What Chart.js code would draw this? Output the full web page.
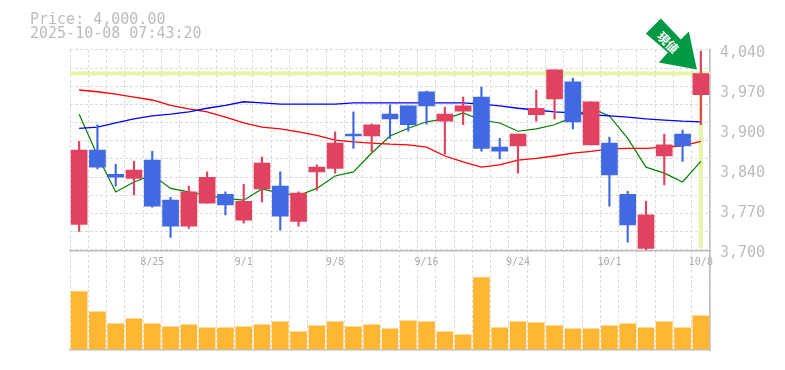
<!DOCTYPE html>
<html>
<head>
<meta charset="utf-8">
<title>Price chart</title>
<script src="https://cdn.jsdelivr.net/npm/chart.js@4/dist/chart.umd.min.js"></script>
<style>
  html, body { margin: 0; padding: 0; background: #fff; }
  canvas { display: block; }
</style>
</head>
<body>
<canvas id="chart" width="785" height="370"></canvas>
<script>
// Statics
var TITLE_LINES = ['Price: 4,000.00', '2025-10-08 07:43:20'];
var ARROW_TEXT = '現値';
var LAST_PRICE = 4000;

var dates = ['8/19', '8/20', '8/21', '8/22', '8/25', '8/26', '8/27', '8/28', '8/29',
    '9/1', '9/2', '9/3', '9/4', '9/5', '9/8', '9/9', '9/10', '9/11', '9/12',
    '9/16', '9/17', '9/18', '9/19', '9/22', '9/24', '9/25', '9/26', '9/29', '9/30',
    '10/1', '10/2', '10/3', '10/6', '10/7', '10/8'];
var labelledDates = ['8/25', '9/1', '9/8', '9/16', '9/24', '10/1', '10/8'];

var opens = [3744, 3870, 3829, 3822, 3853, 3785, 3741, 3780, 3795, 3751, 3804, 3809, 3749, 3833, 3839,
    3897, 3894, 3931, 3945, 3969, 3919, 3936, 3960, 3875, 3877, 3930, 3957, 3986, 3879,
    3882, 3795, 3703, 3860, 3897, 3964];
var closes = [3870, 3841, 3824, 3836, 3775, 3741, 3799, 3824, 3777, 3783, 3848, 3758, 3797, 3841, 3882,
    3894, 3913, 3923, 3913, 3945, 3931, 3945, 3873, 3868, 3897, 3941, 4006, 3918, 3952,
    3828, 3743, 3760, 3879, 3877, 4000];
var highs = [3885, 3913, 3846, 3851, 3868, 3790, 3809, 3833, 3799, 3812, 3858, 3833, 3799, 3845, 3901,
    3935, 3914, 3947, 3945, 3970, 3943, 3960, 3977, 3890, 3897, 3972, 4006, 3992, 3952,
    3892, 3800, 3783, 3897, 3904, 4038];
var lows = [3732, 3838, 3809, 3794, 3773, 3722, 3737, 3780, 3760, 3746, 3782, 3734, 3741, 3802, 3831,
    3873, 3867, 3890, 3902, 3914, 3863, 3913, 3868, 3855, 3831, 3919, 3923, 3906, 3879,
    3775, 3714, 3700, 3811, 3851, 3913];

var maShort = [3931, 3861, 3799, 3816, 3828, 3805, 3799, 3793, 3788, 3785, 3804, 3797, 3793, 3805, 3826,
    3833, 3865, 3894, 3907, 3918, 3923, 3933, 3921, 3916, 3902, 3906, 3913, 3926, 3941,
    3928, 3890, 3841, 3831, 3816, 3851];
var maMid = [3972, 3969, 3965, 3960, 3955, 3946, 3940, 3935, 3926, 3916, 3909, 3906, 3901, 3895, 3887,
    3884, 3882, 3880, 3879, 3875, 3860, 3850, 3841, 3845, 3853, 3856, 3860, 3865, 3868,
    3872, 3873, 3873, 3875, 3877, 3885];
var maLong = [3907, 3909, 3916, 3923, 3928, 3931, 3935, 3941, 3946, 3952, 3950, 3948, 3948, 3948, 3948,
    3950, 3950, 3950, 3950, 3950, 3950, 3950, 3948, 3945, 3941, 3938, 3935, 3933, 3930,
    3928, 3926, 3923, 3921, 3919, 3918];

var volumes = [57, 37, 25, 30, 25, 22, 24, 21, 21, 22, 24, 27, 17, 23, 27, 22, 24, 20,
    28, 27, 17, 14, 71, 21, 27, 26, 23, 20, 20, 23, 25, 21, 27, 21, 33];

var UP_COLOR = '#e1425f';
var DOWN_COLOR = '#4169e1';
var GRID_COLOR = '#dcdcdc';
var AXIS_COLOR = '#bdbdbd';
var TEXT_COLOR = '#bcbcbc';
var MONO = '"DejaVu Sans Mono", monospace';

// Code
function zipRange(a, b) {
    return a.map(function (v, i) { return [v, b[i]]; });
}

var candleColors = opens.map(function (open, i) {
    return closes[i] >= open ? UP_COLOR : DOWN_COLOR;
});

function lineSet(values, color, width) {
    return {
        type: 'line',
        data: values,
        yAxisID: 'price',
        borderColor: color,
        borderWidth: width,
        pointRadius: 0,
        tension: 0,
        order: 5
    };
}

function barSet(values, colors, thickness, axis, order) {
    return {
        type: 'bar',
        data: values,
        yAxisID: axis,
        backgroundColor: colors,
        barThickness: thickness,
        grouped: false,
        order: order
    };
}

// pale lines at the last price, and the green arrow pointing to it
var lastPricePlugin = {
    id: 'lastPrice',
    beforeDatasetsDraw: function (chart) {
        var ctx = chart.ctx;
        var area = chart.chartArea;
        var y = chart.scales.price.getPixelForValue(LAST_PRICE);
        var x = chart.scales.x.getPixelForValue(dates.length - 1);
        var bottom = chart.scales.price.bottom;
        ctx.save();
        ctx.fillStyle = '#e5f5a3';
        ctx.fillRect(area.left, y - 2, area.right - area.left, 4);
        ctx.fillRect(x - 2, y, 4, bottom - y - 2);
        ctx.restore();
    },
    afterDatasetsDraw: function (chart) {
        var ctx = chart.ctx;
        var tipX = chart.scales.x.getPixelForValue(dates.length - 1) - 4;
        var tipY = chart.scales.price.getPixelForValue(LAST_PRICE) - 4;
        // arrow outline, relative to the tip
        var outline = [[-36, -51], [-51, -36], [-29, -17], [-38, -7], [0, 0], [-8, -38], [-16, -30]];
        ctx.save();
        ctx.translate(tipX, tipY);
        ctx.fillStyle = '#009a45';
        ctx.beginPath();
        outline.forEach(function (p, i) {
            if (i === 0) ctx.moveTo(p[0], p[1]);
            else ctx.lineTo(p[0], p[1]);
        });
        ctx.closePath();
        ctx.fill();
        ctx.translate(-29, -27);
        ctx.rotate(Math.PI / 4);
        ctx.fillStyle = '#fff';
        ctx.font = 'bold 12px "Noto Sans CJK JP"';
        ctx.textAlign = 'center';
        ctx.textBaseline = 'middle';
        ctx.fillText(ARROW_TEXT, 0, 0);
        ctx.restore();
    }
};

// empty axis, only there to fix the width of the side columns
function fixedWidth(width) {
    return function (scale) { scale.width = width; };
}

new Chart(document.getElementById('chart'), {
    data: {
        labels: dates,
        datasets: [
            lineSet(maLong, '#0000ff', 1.3),
            lineSet(maMid, '#ff0000', 1.3),
            lineSet(maShort, '#008000', 1.2),
            barSet(zipRange(lows, highs), candleColors, 1.5, 'price', 2),
            barSet(zipRange(opens, closes), candleColors, 16, 'price', 1),
            barSet(volumes, '#ffb733', 16, 'vol', 3)
        ]
    },
    options: {
        responsive: false,
        animation: false,
        layout: { padding: { left: 30, right: 0, top: 0, bottom: 20 } },
        plugins: {
            legend: { display: false },
            tooltip: { enabled: false },
            title: {
                display: true,
                text: TITLE_LINES,
                align: 'start',
                color: TEXT_COLOR,
                font: { family: MONO, size: 15, weight: 'normal', lineHeight: 0.93 },
                padding: { top: 13, bottom: 9 }
            }
        },
        scales: {
            x: {
                position: { price: 3700 },
                grid: { color: GRID_COLOR, drawTicks: false },
                border: { color: AXIS_COLOR, width: 1.5, dash: [3, 2] },
                ticks: {
                    autoSkip: false,
                    maxRotation: 0,
                    padding: 6,
                    color: '#acacac',
                    font: { family: MONO, size: 10 },
                    callback: function (value) {
                        var label = dates[value];
                        return labelledDates.indexOf(label) >= 0 ? label : '';
                    }
                }
            },
            xBottom: {
                axis: 'x',
                type: 'category',
                position: 'bottom',
                grid: { display: false, drawTicks: false },
                border: { color: AXIS_COLOR, width: 1.5 },
                ticks: { display: false }
            },
            price: {
                position: 'right',
                stack: 'rightColumn',
                stackWeight: 200,
                min: 3700,
                max: 4040,
                grid: { display: false, drawTicks: false },
                border: { color: AXIS_COLOR, width: 1.5 },
                afterFit: fixedWidth(75),
                ticks: {
                    stepSize: 68,
                    padding: 10,
                    labelOffset: 3,
                    color: TEXT_COLOR,
                    font: { family: MONO, size: 15 },
                    callback: function (value) {
                        return (Math.round(value / 10) * 10).toLocaleString('en-US');
                    }
                }
            },
            vol: {
                position: 'right',
                stack: 'rightColumn',
                stackWeight: 99.5,
                min: -1,
                max: 98,
                grid: { display: false, drawTicks: false },
                border: { color: AXIS_COLOR, width: 1.5 },
                afterFit: fixedWidth(75),
                ticks: { display: false }
            },
            // runs the full height, lines only show down to the end of the price panel
            gridY: {
                axis: 'y',
                position: 'left',
                reverse: true,
                min: 0,
                max: 16.51,
                grid: {
                    drawTicks: false,
                    color: function (ctx) {
                        return ctx.tick && ctx.tick.value <= 11 ? GRID_COLOR : 'rgba(0,0,0,0)';
                    }
                },
                border: { display: false, dash: [3, 2] },
                afterFit: fixedWidth(40),
                ticks: { display: false, stepSize: 1 }
            }
        }
    },
    plugins: [lastPricePlugin]
});
</script>
</body>
</html>
